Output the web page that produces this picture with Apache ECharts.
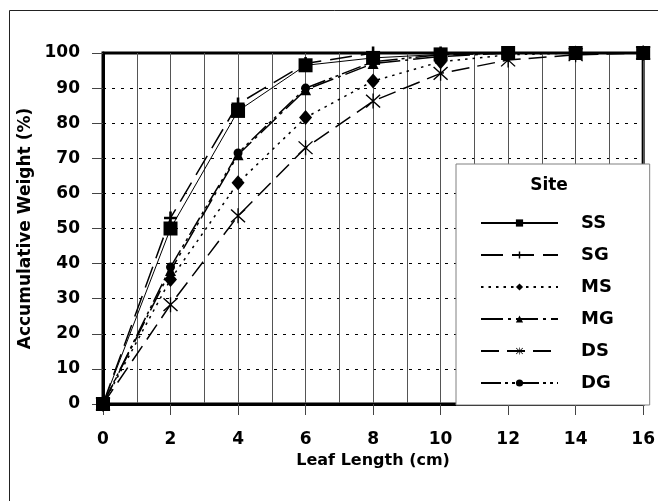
<!DOCTYPE html>
<html>
<head>
<meta charset="utf-8">
<script src="https://cdn.jsdelivr.net/npm/echarts@6/dist/echarts.min.js"></script>
<style>
  html, body { margin: 0; padding: 0; background: #fff; }
  #chart { width: 658px; height: 501px; }
</style>
</head>
<body>
<div id="chart"></div>
<script>
// Leaf length classes (cm) and cumulative leaf weight (%) per site
const leafLength = [0, 2, 4, 6, 8, 10, 12, 14, 16];
const siteNames = ['SS', 'SG', 'MS', 'MG', 'DS', 'DG'];
const ssWeight = [0, 50, 83.5, 96.5, 98.6, 99.6, 100, 100, 100];
const sgWeight = [0, 53, 85.5, 97, 100, 100, 100, 100, 100];
const msWeight = [0, 35.5, 63, 81.6, 92, 97.5, 99.5, 100, 100];
const mgWeight = [0, 38, 71, 89.5, 97, 99, 100, 100, 100];
const dsWeight = [0, 28.3, 53.6, 73, 86.3, 94.2, 98, 99.5, 100];
const dgWeight = [0, 39, 71.5, 90, 97.5, 99.5, 100, 100, 100];
const yTicks = [0, 10, 20, 30, 40, 50, 60, 70, 80, 90, 100];

const FONT = 'DejaVu Sans';
const plusPath = 'path://M8 0H12V8H20V12H12V20H8V12H0V8H8Z';
const asteriskPath = 'path://M9.2 0H10.8V20H9.2Z M0.9 2.1L2.1 0.9L19.1 17.9L17.9 19.1Z M17.9 0.9L19.1 2.1L2.1 19.1L0.9 17.9Z';

const siteStyles = {
  SS: { data: ssWeight, symbol: 'rect', size: 14, dash: 'solid', width: 1 },
  SG: { data: sgWeight, symbol: plusPath, size: 13, dash: [22, 9], width: 1.5 },
  MS: { data: msWeight, symbol: 'diamond', size: [13, 15], dash: [2.5, 5], width: 1.5 },
  MG: { data: mgWeight, symbol: 'triangle', size: 11, dash: [22, 5, 3, 5], width: 1.5 },
  DS: { data: dsWeight, symbol: asteriskPath, size: 15, dash: [18, 8], width: 1.5 },
  DG: { data: dgWeight, symbol: 'circle', size: 9, dash: [20, 4, 3, 4, 3, 4], width: 1.5 }
};

const series = siteNames.map(name => {
  const s = siteStyles[name];
  return {
    name: name,
    type: 'line',
    data: leafLength.map((x, i) => [x, s.data[i]]),
    symbol: s.symbol,
    symbolSize: s.size,
    showAllSymbol: true,
    itemStyle: { color: '#000', borderWidth: 0 },
    lineStyle: { color: '#000', width: s.width, type: s.dash },
    emphasis: { disabled: true },
    animation: false
  };
});

const chart = echarts.init(document.getElementById('chart'), null, { renderer: 'canvas' });
chart.setOption({
  backgroundColor: '#fff',
  animation: false,
  grid: {
    left: 103, right: 14, top: 53, bottom: 97,
    show: true, borderColor: '#000', borderWidth: 3, backgroundColor: 'transparent'
  },
  xAxis: {
    type: 'value',
    min: 0, max: 16, interval: 2,
    name: 'Leaf Length (cm)',
    nameLocation: 'middle',
    nameGap: 49,
    nameTextStyle: { fontFamily: FONT, fontWeight: 'bold', fontSize: 16, color: '#000' },
    axisLine: { show: true, onZero: false, lineStyle: { color: '#000', width: 3 } },
    axisTick: { show: true, length: 11, lineStyle: { color: '#444', width: 1 } },
    axisLabel: { margin: 27, fontFamily: FONT, fontWeight: 'bold', fontSize: 17, color: '#000' },
    splitLine: { show: true, lineStyle: { color: '#555', width: 1, type: 'solid' } },
    minorTick: { show: false, splitNumber: 2 },
    minorSplitLine: { show: true, lineStyle: { color: '#555', width: 1 } }
  },
  yAxis: {
    type: 'value',
    min: 0, max: 100, interval: 10,
    name: 'Accumulative Weight (%)',
    nameLocation: 'middle',
    nameGap: 60,
    nameTextStyle: { fontFamily: FONT, fontWeight: 'bold', fontSize: 17, color: '#000' },
    axisLine: { show: true, onZero: false, lineStyle: { color: '#000', width: 3 } },
    axisTick: { show: true, length: 11, lineStyle: { color: '#444', width: 1 } },
    axisLabel: {
      margin: 23, fontFamily: FONT, fontWeight: 'bold', fontSize: 17, color: '#000',
      formatter: v => (yTicks.indexOf(v) >= 0 ? String(v) : '')
    },
    splitLine: { show: true, lineStyle: { color: '#000', width: 1, type: [3, 6] } }
  },
  legend: {
    data: siteNames,
    orient: 'vertical',
    left: 456, top: 164,
    padding: [50, 36, 13, 24],
    itemWidth: 77,
    itemHeight: 9,
    itemGap: 14,
    selectedMode: false,
    backgroundColor: '#fff',
    borderColor: '#808080',
    borderWidth: 1,
    textStyle: {
      fontFamily: FONT, fontWeight: 'bold', fontSize: 18, color: '#000',
      lineHeight: 18, padding: [0, 0, 0, 18]
    }
  },
  graphic: [
    {
      type: 'rect', z: -10, silent: true,
      shape: { x: 9.5, y: 10.5, width: 720, height: 620 },
      style: { fill: 'none', stroke: '#222', lineWidth: 1 }
    },
    {
      type: 'text', z: 100, silent: true,
      x: 549, y: 186,
      style: {
        text: 'Site', fill: '#000', font: 'bold 17px "DejaVu Sans"',
        textAlign: 'center', textVerticalAlign: 'middle'
      }
    }
  ],
  series: series
});
</script>
</body>
</html>
